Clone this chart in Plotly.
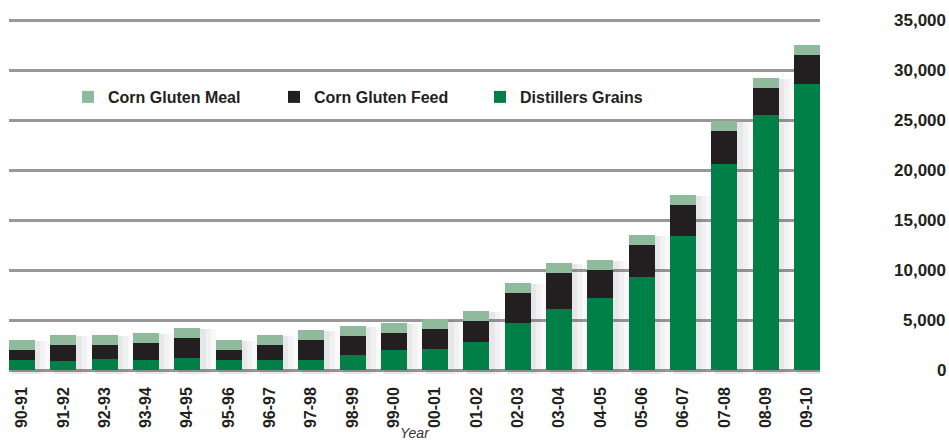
import plotly.graph_objects as go

years = ["90-91", "91-92", "92-93", "93-94", "94-95", "95-96", "96-97", "97-98",
         "98-99", "99-00", "00-01", "01-02", "02-03", "03-04", "04-05", "05-06",
         "06-07", "07-08", "08-09", "09-10"]
distillers_grains = [1000, 900, 1100, 1000, 1200, 1000, 1000, 1000, 1500, 2000,
                     2100, 2800, 4700, 6100, 7200, 9300, 13400, 20600, 25500, 28600]
corn_gluten_feed = [1000, 1600, 1400, 1700, 2000, 1000, 1500, 2000, 1900, 1700,
                    2000, 2100, 3000, 3600, 2800, 3200, 3100, 3300, 2700, 2900]
corn_gluten_meal = [1000, 1000, 1000, 1000, 1000, 1000, 1000, 1000, 1000, 1000,
                    1000, 1000, 1000, 1000, 1000, 1000, 1000, 1000, 1000, 1000]
y_ticks = [0, 5000, 10000, 15000, 20000, 25000, 30000, 35000]
y_tick_text = ["0", "5,000", "10,000", "15,000", "20,000", "25,000", "30,000", "35,000"]

C_GRAINS = "#007f46"
C_FEED = "#231f20"
C_MEAL = "#8fbb9c"
SANS = "Liberation Sans, Arial, Helvetica, sans-serif"

W, H = 949, 443
L, R, T, B = 9, 129, 15, 68
plot_w = W - L - R
plot_h = H - T - B
Y_RANGE = [-500, 35500]


def ypaper(px):
    # pixel row -> paper fraction
    return (H - B - px) / plot_h


totals = [g + f + m for g, f, m in zip(distillers_grains, corn_gluten_feed, corn_gluten_meal)]

fig = go.Figure()
# soft drop shadow behind the bars (drawn on base x axis)
for w, a, off in [(0.92, 0.03, 0.10), (0.80, 0.04, 0.08), (0.70, 0.05, 0.06)]:
    fig.add_trace(go.Bar(x=years, y=[t + 250 for t in totals], base=-350,
                         xaxis="x", yaxis="y", width=w, offset=-0.315 + off,
                         marker=dict(color=f"rgba(60,60,70,{a})", line=dict(width=0)),
                         showlegend=False, hoverinfo="skip"))

fig.add_trace(go.Bar(x=years, y=distillers_grains, name="Distillers Grains", xaxis="x2",
                     marker=dict(color=C_GRAINS, line=dict(width=0)), width=0.63))
fig.add_trace(go.Bar(x=years, y=corn_gluten_feed, name="Corn Gluten Feed", xaxis="x2",
                     marker=dict(color=C_FEED, line=dict(width=0)), width=0.63))
fig.add_trace(go.Bar(x=years, y=corn_gluten_meal, name="Corn Gluten Meal", xaxis="x2",
                     marker=dict(color=C_MEAL, line=dict(width=0)), width=0.63))

annotations = [dict(text="Year", xref="paper", yref="paper",
                    x=(414.5 - L) / plot_w, y=ypaper(433),
                    xanchor="center", yanchor="middle", showarrow=False,
                    font=dict(family=SANS, size=14, color="#333333", style="italic"))]
for v, t in zip(y_ticks, y_tick_text):
    annotations.append(dict(text=t, xref="paper", yref="y", x=(948 - L) / plot_w, y=v,
                            xanchor="right", yanchor="middle", showarrow=False,
                            font=dict(family=SANS, size=17, color="#231f20", weight="bold")))

fig.update_layout(
    width=W, height=H,
    margin=dict(l=L, r=R, t=T, b=B, pad=0),
    barmode="stack",
    plot_bgcolor="white", paper_bgcolor="white",
    showlegend=True,
    legend=dict(orientation="h", traceorder="reversed",
                x=(68 - L) / plot_w, xanchor="left",
                y=ypaper(97), yanchor="middle",
                font=dict(family=SANS, size=16, color="#231f20", weight="bold"),
                entrywidth=161, entrywidthmode="pixels",
                bgcolor="rgba(0,0,0,0)", itemclick=False),
    xaxis=dict(type="category", range=[-0.315, 19.315],
               tickangle=-90, showgrid=False, zeroline=False, showline=False,
               ticks="", ticklabelstandoff=8,
               tickfont=dict(family=SANS, size=16, color="#231f20", weight="bold")),
    xaxis2=dict(type="category", range=[-0.315, 19.315], overlaying="x",
                showticklabels=False, showgrid=False, zeroline=False, showline=False,
                ticks="", matches="x"),
    yaxis=dict(range=Y_RANGE, tickvals=y_ticks, showticklabels=False,
               showgrid=True, gridcolor="#98989b", gridwidth=3,
               zeroline=False, showline=False, ticks=""),
    annotations=annotations,
)

fig.write_html("out.html")
